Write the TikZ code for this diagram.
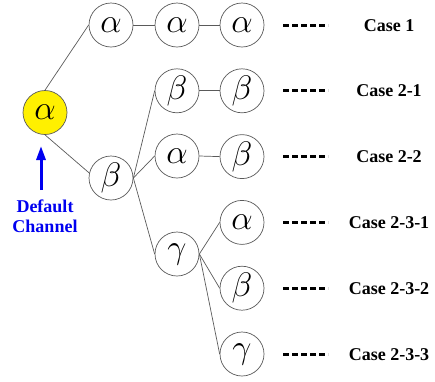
\RequirePackage{fix-cm}
\documentclass[tikz,border=0pt]{standalone}
\usepackage{fontspec}
\setmainfont{Liberation Serif}
\usetikzlibrary{arrows.meta}
\definecolor{edgegray}{RGB}{90,90,90}
\definecolor{rootyellow}{RGB}{255,240,0}
\definecolor{chblue}{RGB}{0,0,240}
\tikzset{
  chan/.style={circle, draw=edgegray, line width=0.7pt, fill=white, minimum size=44pt, inner sep=0pt,
    font=\fontsize{34}{34}\selectfont},
  rootnode/.style={chan, fill=rootyellow},
  link/.style={draw=edgegray, line width=0.7pt},
  dots/.style={line width=3pt, dash pattern=on 6pt off 3pt},
  caselbl/.style={anchor=base, font=\fontsize{18}{18}\bfseries\selectfont, inner sep=0pt},
  deflbl/.style={align=center, text=chblue, font=\fontsize{18}{19.5}\bfseries\selectfont, inner sep=0pt}
}
\begin{document}
\begin{tikzpicture}[x=1pt,y=-1pt]
\useasboundingbox (0,0) rectangle (435,381);
% nodes
\node[rootnode] (r) at (45,112.5) {$\alpha$};
\node[chan] (a1) at (111,25) {$\alpha$};
\node[chan] (b1) at (111,178) {$\beta$};
\node[chan] (a2) at (177,25) {$\alpha$};
\node[chan] (b2) at (177,90.8) {$\beta$};
\node[chan] (c2) at (177,156) {$\alpha$};
\node[chan] (g2) at (177,254) {$\gamma$};
\node[chan] (a3) at (242,25) {$\alpha$};
\node[chan] (b3) at (242,90.8) {$\beta$};
\node[chan] (c3) at (242,156.6) {$\beta$};
\node[chan] (d3) at (242,222.4) {$\alpha$};
\node[chan] (e3) at (242,288.2) {$\beta$};
\node[chan] (f3) at (242,354) {$\gamma$};
% edges
\draw[link] (r.north) -- (a1.west);
\draw[link] (r.south) -- (b1.167);
\draw[link] (a1.east) -- (a2.west);
\draw[link] (a2.east) -- (a3.west);
\draw[link] (b1.east) -- (b2.west);
\draw[link] (b1.east) -- (c2.west);
\draw[link] (b1.east) -- (g2.west);
\draw[link] (b2.east) -- (b3.west);
\draw[link] (c2.east) -- (c3.west);
\draw[link] (g2.east) -- (d3.west);
\draw[link] (g2.east) -- (e3.west);
\draw[link] (g2.east) -- (f3.west);
% dashes and labels
\foreach \n/\y/\t in {1/25/{Case 1},2/90.8/{Case 2-1},3/156.6/{Case 2-2},4/222.4/{Case 2-3-1},5/288.2/{Case 2-3-2},6/354/{Case 2-3-3}}{
  \coordinate (ds\n) at (283,\y);
  \coordinate (de\n) at (328,\y);
  \draw[dots] (ds\n) -- (de\n);
  \node[caselbl] (l\n) at (389,\y+6) {\t};
}
% default channel
\node[deflbl] (dc) at (45,216) {Default\\Channel};
\coordinate (arrtail) at (41,190);
\coordinate (arrtip) at (41,146);
\draw[chblue, line width=3pt, -{Triangle[length=14pt,width=9pt]}] (arrtail) -- (arrtip);
\end{tikzpicture}
\end{document}
